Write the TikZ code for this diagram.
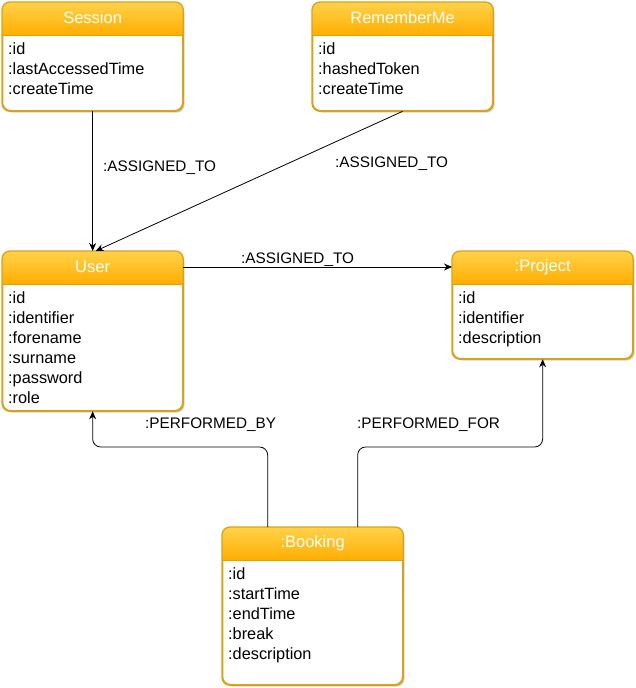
\documentclass[tikz,border=0pt]{standalone}
\usepackage{fontspec}
\setmainfont{Liberation Sans}
\usetikzlibrary{arrows.meta,shadows}
\definecolor{hdrtop}{HTML}{FFD24A}
\definecolor{hdrbot}{HTML}{FFAE00}
\definecolor{boxline}{HTML}{D9A21B}
\definecolor{hdrline}{HTML}{E89E00}
\tikzset{
  entbox/.style={draw=boxline, line width=1.3pt, rounded corners=8pt, fill=white,
    drop shadow={shadow xshift=2pt, shadow yshift=-2pt, opacity=0.35, fill=gray},
    minimum width=180pt, anchor=north west, inner sep=0pt},
  hdrtext/.style={text=white, font=\fontsize{16.5}{19}\selectfont, inner sep=0pt},
  rowtext/.style={font=\fontsize{16.3}{20}\selectfont, align=left, anchor=north west, inner sep=0pt},
  lbl/.style={font=\fontsize{15.3}{18}\selectfont, anchor=west, inner sep=0pt},
  arr/.style={draw=black, line width=0.8pt, -{Stealth[length=8pt,width=7pt]}},
}
\newcommand{\entityhdr}[2]{%
  \begin{scope}
    \clip[rounded corners=8pt] (#1.north west) rectangle (#1.south east);
    \shade[top color=hdrtop, bottom color=hdrbot] (#1.north west) rectangle ([yshift=-33pt]#1.north east);
    \draw[hdrline, line width=1pt] ([yshift=-33pt]#1.north west) -- ([yshift=-33pt]#1.north east);
  \end{scope}
  \draw[boxline, line width=1.3pt, rounded corners=8pt] (#1.north west) rectangle (#1.south east);
  \node[hdrtext] (#1-t) at ([yshift=-16pt]#1.north) {#2};
}
\begin{document}
\begin{tikzpicture}[x=1pt,y=-1pt]
\useasboundingbox (0,0) rectangle (635,688);
% boxes
\node[entbox, minimum height=108pt] (session) at (2,2) {};
\node[entbox, minimum height=108pt] (remember) at (312,2) {};
\node[entbox, minimum height=159pt] (user) at (2,251) {};
\node[entbox, minimum height=107pt] (project) at (452,251) {};
\node[entbox, minimum height=157pt] (booking) at (222,527) {};
\entityhdr{session}{Session}
\entityhdr{remember}{RememberMe}
\entityhdr{user}{User}
\entityhdr{project}{:Project}
\entityhdr{booking}{:Booking}
% rows
\node[rowtext] (session-r) at ([shift={(6pt,-40pt)}]session.north west) {:id\\:lastAccessedTime\\:createTime};
\node[rowtext] (remember-r) at ([shift={(6pt,-40pt)}]remember.north west) {:id\\:hashedToken\\:createTime};
\node[rowtext] (user-r) at ([shift={(6pt,-40pt)}]user.north west) {:id\\:identifier\\:forename\\:surname\\:password\\:role};
\node[rowtext] (project-r) at ([shift={(6pt,-40pt)}]project.north west) {:id\\:identifier\\:description};
\node[rowtext] (booking-r) at ([shift={(6pt,-40pt)}]booking.north west) {:id\\:startTime\\:endTime\\:break\\:description};
% connectors
\draw[arr] (session.south) -- (user.north);
\draw[arr] (remember.south) -- ([xshift=3pt]user.north);
\draw[arr] (user.east |- user-t) -- (project.west |- user-t);
\draw[arr, rounded corners=8pt] ([xshift=-45pt]booking.north) -- ++(0pt,80pt) -| (user.south);
\draw[arr, rounded corners=8pt] ([xshift=45pt]booking.north) -- ++(0pt,80pt) -| (project.south);
% labels
\node[lbl] (l1) at (103,168) {:ASSIGNED\_TO};
\node[lbl] (l2) at (335,164) {:ASSIGNED\_TO};
\node[lbl] (l3) at (241,260) {:ASSIGNED\_TO};
\node[lbl] (l4) at (145,425) {:PERFORMED\_BY};
\node[lbl] (l5) at (357,425) {:PERFORMED\_FOR};
\end{tikzpicture}
\end{document}
